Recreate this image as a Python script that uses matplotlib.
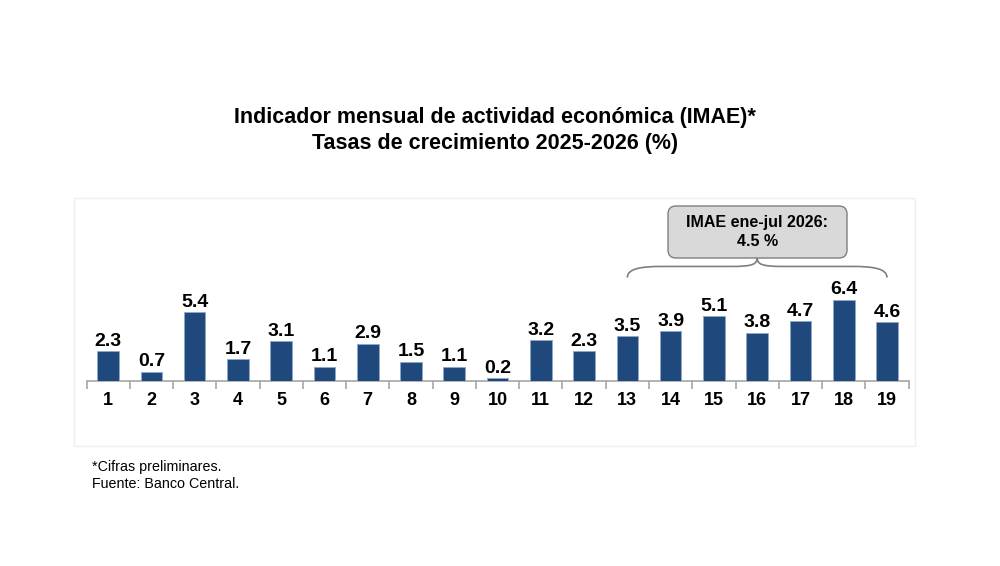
import matplotlib
matplotlib.use("Agg")
import matplotlib.pyplot as plt
from matplotlib.patches import Rectangle, FancyBboxPatch, PathPatch
from matplotlib.path import Path

plt.rcParams['font.family'] = ['Liberation Sans', 'DejaVu Sans']

categories = [str(i) for i in range(1, 20)]
values = [2.3, 0.7, 5.4, 1.7, 3.1, 1.1, 2.9, 1.5, 1.1, 0.2, 3.2, 2.3, 3.5, 3.9, 5.1, 3.8, 4.7, 6.4, 4.6]
title_lines = ["Indicador mensual de actividad económica (IMAE)*",
               "Tasas de crecimiento 2025-2026 (%)"]
box_text = "IMAE ene-jul 2026:\n4.5 %"
brace_first, brace_last = 13, 19
footnotes = ["*Cifras preliminares.", "Fuente: Banco Central."]

W, H = 1000, 566
fig = plt.figure(figsize=(10, 5.66), dpi=100)

def fx(px):
    return px / W

def fy(py):
    return 1 - py / H

# light frame around chart area
fig.patches.append(Rectangle((fx(74), fy(446)), fx(915) - fx(74), fy(198) - fy(446),
                             transform=fig.transFigure, fill=False,
                             edgecolor='#EFEFEF', lw=1.0, zorder=0))

ax_left, ax_right = 86.5, 908.6
ax_bottom, ax_top = 380.5, 200
ax = fig.add_axes([fx(ax_left), fy(ax_bottom), fx(ax_right) - fx(ax_left), fy(ax_top) - fy(ax_bottom)])
ax.patch.set_alpha(0)
ppu = 12.63
ax.set_ylim(0, (ax_bottom - ax_top) / ppu)
ax.set_xlim(0.5, len(values) + 0.5)

x = list(range(1, len(values) + 1))
bars = ax.bar(x, values, width=0.5, color='#1F497D', edgecolor='#8FA8C8', linewidth=0.6, zorder=3)
for xi, v in zip(x, values):
    ax.annotate(f"{v:.1f}", (xi, v), xytext=(0, 1.0), textcoords='offset points',
                ha='center', va='bottom', fontsize=14, fontweight='bold', color='black')

for s in ['top', 'right', 'left']:
    ax.spines[s].set_visible(False)
ax.spines['bottom'].set_color('#A6A6A6')
ax.spines['bottom'].set_linewidth(1.2)
ax.set_yticks([])
ax.set_xticks(x)
ax.set_xticklabels(categories, fontsize=13, fontweight='bold')
ax.tick_params(axis='x', which='major', length=0, pad=8)
ax.set_xticks([i + 0.5 for i in range(0, len(values) + 1)], minor=True)
ax.tick_params(axis='x', which='minor', length=6, width=1.2, color='#A6A6A6', direction='out')

# brace over the selected months
xa, xb = brace_first, brace_last
xm = (xa + xb) / 2
yend = 8.15
yflat = 9.03
ypeak = 9.74
verts = [
    (xa, yend),
    (xa, 8.85), (xa + 0.3, yflat), (xa + 0.8, yflat),
    (xm - 0.6, yflat),
    (xm - 0.1, yflat), (xm, 9.2), (xm, ypeak),
    (xm, 9.2), (xm + 0.1, yflat), (xm + 0.6, yflat),
    (xb - 0.8, yflat),
    (xb - 0.3, yflat), (xb, 8.85), (xb, yend),
]
codes = [Path.MOVETO,
         Path.CURVE4, Path.CURVE4, Path.CURVE4,
         Path.LINETO,
         Path.CURVE4, Path.CURVE4, Path.CURVE4,
         Path.CURVE4, Path.CURVE4, Path.CURVE4,
         Path.LINETO,
         Path.CURVE4, Path.CURVE4, Path.CURVE4]
ax.add_patch(PathPatch(Path(verts, codes), fill=False, edgecolor='#7F7F7F', lw=1.2, clip_on=False))

# annotation box
bx0, bx1, by0, by1 = 668, 847, 206, 258
r = 8
fig.patches.append(FancyBboxPatch((fx(bx0), fy(by1)), fx(bx1) - fx(bx0), fy(by0) - fy(by1),
                                  boxstyle=f"round,pad=0,rounding_size={r / W}",
                                  transform=fig.transFigure, facecolor='#D9D9D9',
                                  edgecolor='#7F7F7F', lw=1.0, mutation_aspect=W / H))
fig.text(fx((bx0 + bx1) / 2), fy(232), box_text, ha='center', va='center',
         fontsize=11.5, fontweight='bold', linespacing=1.3)

fig.text(fx(495), fy(117), title_lines[0], ha='center', va='center', fontsize=15.5, fontweight='bold')
fig.text(fx(495), fy(143), title_lines[1], ha='center', va='center', fontsize=15.5, fontweight='bold')

fig.text(fx(92), fy(467), footnotes[0], ha='left', va='center', fontsize=10.3)
fig.text(fx(92), fy(484), footnotes[1], ha='left', va='center', fontsize=10.3)

fig.savefig("out.png", dpi=100, facecolor='white')
